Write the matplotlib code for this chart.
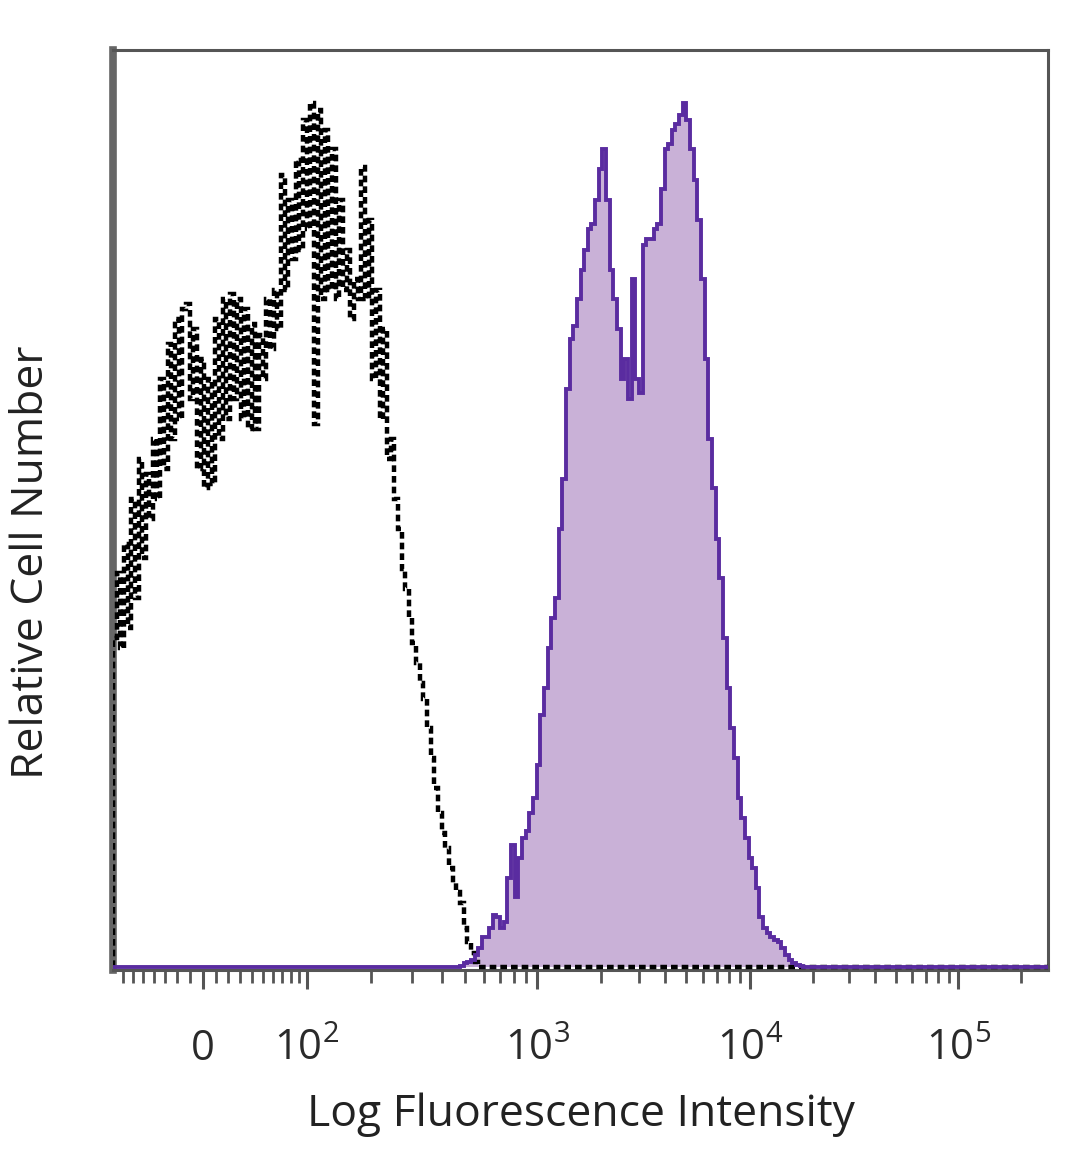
import numpy as np
import matplotlib
matplotlib.use("Agg")
import matplotlib.pyplot as plt

# Histogram counts (% of max) per channel, 256-channel display scale
black_counts = [
    38.1, 45.6, 36.9, 49.0, 39.2, 54.2, 42.7, 58.8, 47.3, 57.1,
    51.9, 61.1, 54.2, 68.1, 57.7, 72.1, 61.1, 75.0, 63.4, 76.1,
    76.7, 65.7, 73.8, 57.7, 70.4, 55.4, 68.1, 55.9, 75.0, 61.1,
    77.3, 63.4, 77.9, 65.7, 77.3, 63.4, 76.1, 62.3, 74.4, 62.3,
    73.2, 68.1, 77.3, 71.5, 78.4, 73.8, 91.7, 78.4, 88.8, 81.9,
    93.4, 83.0, 98.0, 85.4, 100.0, 62.9, 99.2, 77.3, 96.9, 78.4,
    94.6, 77.3, 88.8, 78.4, 83.0, 75.0, 79.6, 77.3, 92.6, 77.3,
    86.5, 68.1, 78.4, 63.4, 73.8, 58.8, 61.1, 54.2, 50.7, 46.1,
    43.8, 40.4, 37.5, 35.2, 32.9, 31.1, 27.7, 24.2, 20.8, 17.9,
    15.6, 13.8, 11.5, 9.8, 8.7, 7.5, 4.6, 2.9, 1.7, 0.6,
]
black_start = 0

purple_counts = [
    0.2, 0.5, 0.6, 0.9, 1.4, 2.3, 3.5, 3.5, 4.6, 6.1,
    5.8, 4.6, 5.2, 10.4, 14.2, 8.1, 12.7, 15.0, 15.8, 17.9,
    19.6, 23.4, 29.2, 32.3, 36.9, 40.4, 42.7, 50.7, 56.5, 66.9,
    72.7, 74.2, 77.3, 80.7, 83.0, 85.4, 86.0, 88.8, 92.3, 94.6,
    88.8, 80.7, 77.3, 73.8, 68.1, 70.4, 65.7, 79.6, 68.1, 66.4,
    83.6, 84.2, 84.2, 85.4, 86.0, 90.0, 94.6, 95.2, 96.9, 97.5,
    98.6, 100.0, 98.0, 94.6, 91.1, 86.5, 79.6, 70.4, 61.1, 55.4,
    49.6, 45.0, 38.1, 32.3, 27.7, 24.2, 19.6, 17.3, 15.0, 12.7,
    11.5, 9.2, 5.8, 4.6, 4.0, 3.5, 3.2, 2.9, 2.3, 1.4,
    0.9, 0.5, 0.3, 0.2,
]
purple_start = 95

n_chan = 256

# Axis ticks (biexponential display)
major_vals = [0, 1e2, 1e3, 1e4, 1e5]
major_labels = ["0", "$10^2$", "$10^3$", "$10^4$", "$10^5$"]
major_chan = [24.6, 53.1, 116.1, 174.4, 231.4]
minor_vals = ([-70, -60, -50, -40, -30, -20, -10]
              + [10, 20, 30, 40, 50, 60, 70, 80, 90]
              + [k * 1e2 for k in range(2, 10)]
              + [k * 1e3 for k in range(2, 10)]
              + [k * 1e4 for k in range(2, 10)]
              + [2e5])


def to_channel(v):
    """ Map intensity to display channel (asinh-like scale through the major ticks) """
    w = 71.0
    knots_v = np.array([-100, 0, 1e2, 1e3, 1e4, 1e5, 1e6])
    knots_c = [major_chan[0] - (major_chan[1] - major_chan[0])] + major_chan \
              + [major_chan[-1] + (major_chan[-1] - major_chan[-2])]
    return np.interp(np.arcsinh(np.asarray(v) / w), np.arcsinh(knots_v / w), knots_c)


def full(counts, start):
    """ Pad a list of counts out to the full channel range """
    arr = np.zeros(n_chan)
    arr[start:start + len(counts)] = counts
    return arr


plt.rcParams['font.family'] = ['Open Sans', 'DejaVu Sans']
plt.rcParams['mathtext.fontset'] = 'custom'
plt.rcParams['mathtext.rm'] = 'Open Sans'
plt.rcParams['mathtext.it'] = 'Open Sans'

fig = plt.figure(figsize=(10.8, 11.69), dpi=100)
ax = fig.add_axes([0.1046, 0.1702, 0.8658, 0.787])

edges = np.arange(n_chan + 1)
blk = full(black_counts, black_start)
pur = full(purple_counts, purple_start)

ax.stairs(pur, edges, fill=True, color="#c9b1d7", zorder=2)
ax.stairs(blk, edges, color="black", lw=3.2, linestyle=(0, (1.5, 0.9)), zorder=3)
ax.stairs(pur, edges, color="#5a2ca0", lw=2.8, zorder=4)

ax.set_xlim(0, n_chan)
ax.set_ylim(-0.3, 106.1)

ax.set_yticks([])
ax.set_xticks(major_chan)
ax.set_xticklabels(major_labels)
minor = to_channel(minor_vals)
ax.set_xticks(minor[(minor > 0.5) & (minor < n_chan)], minor=True)

ax.tick_params(axis="x", which="major", length=14, width=2.2, color="#555555",
               labelsize=30, labelcolor="#2a2a2a", pad=28)
ax.tick_params(axis="x", which="minor", length=9, width=2.0, color="#555555")

for side in ["top", "right", "bottom"]:
    ax.spines[side].set_color("#555555")
    ax.spines[side].set_linewidth(2.2)
ax.spines["left"].set_color("#666666")
ax.spines["left"].set_linewidth(5.5)

ax.set_xlabel("Log Fluorescence Intensity", fontsize=32, color="#222222", labelpad=16)
ax.set_ylabel("Relative Cell Number", fontsize=32, color="#222222")
ax.yaxis.set_label_coords(-0.063, 0.443)

fig.savefig("out.png", dpi=100)
